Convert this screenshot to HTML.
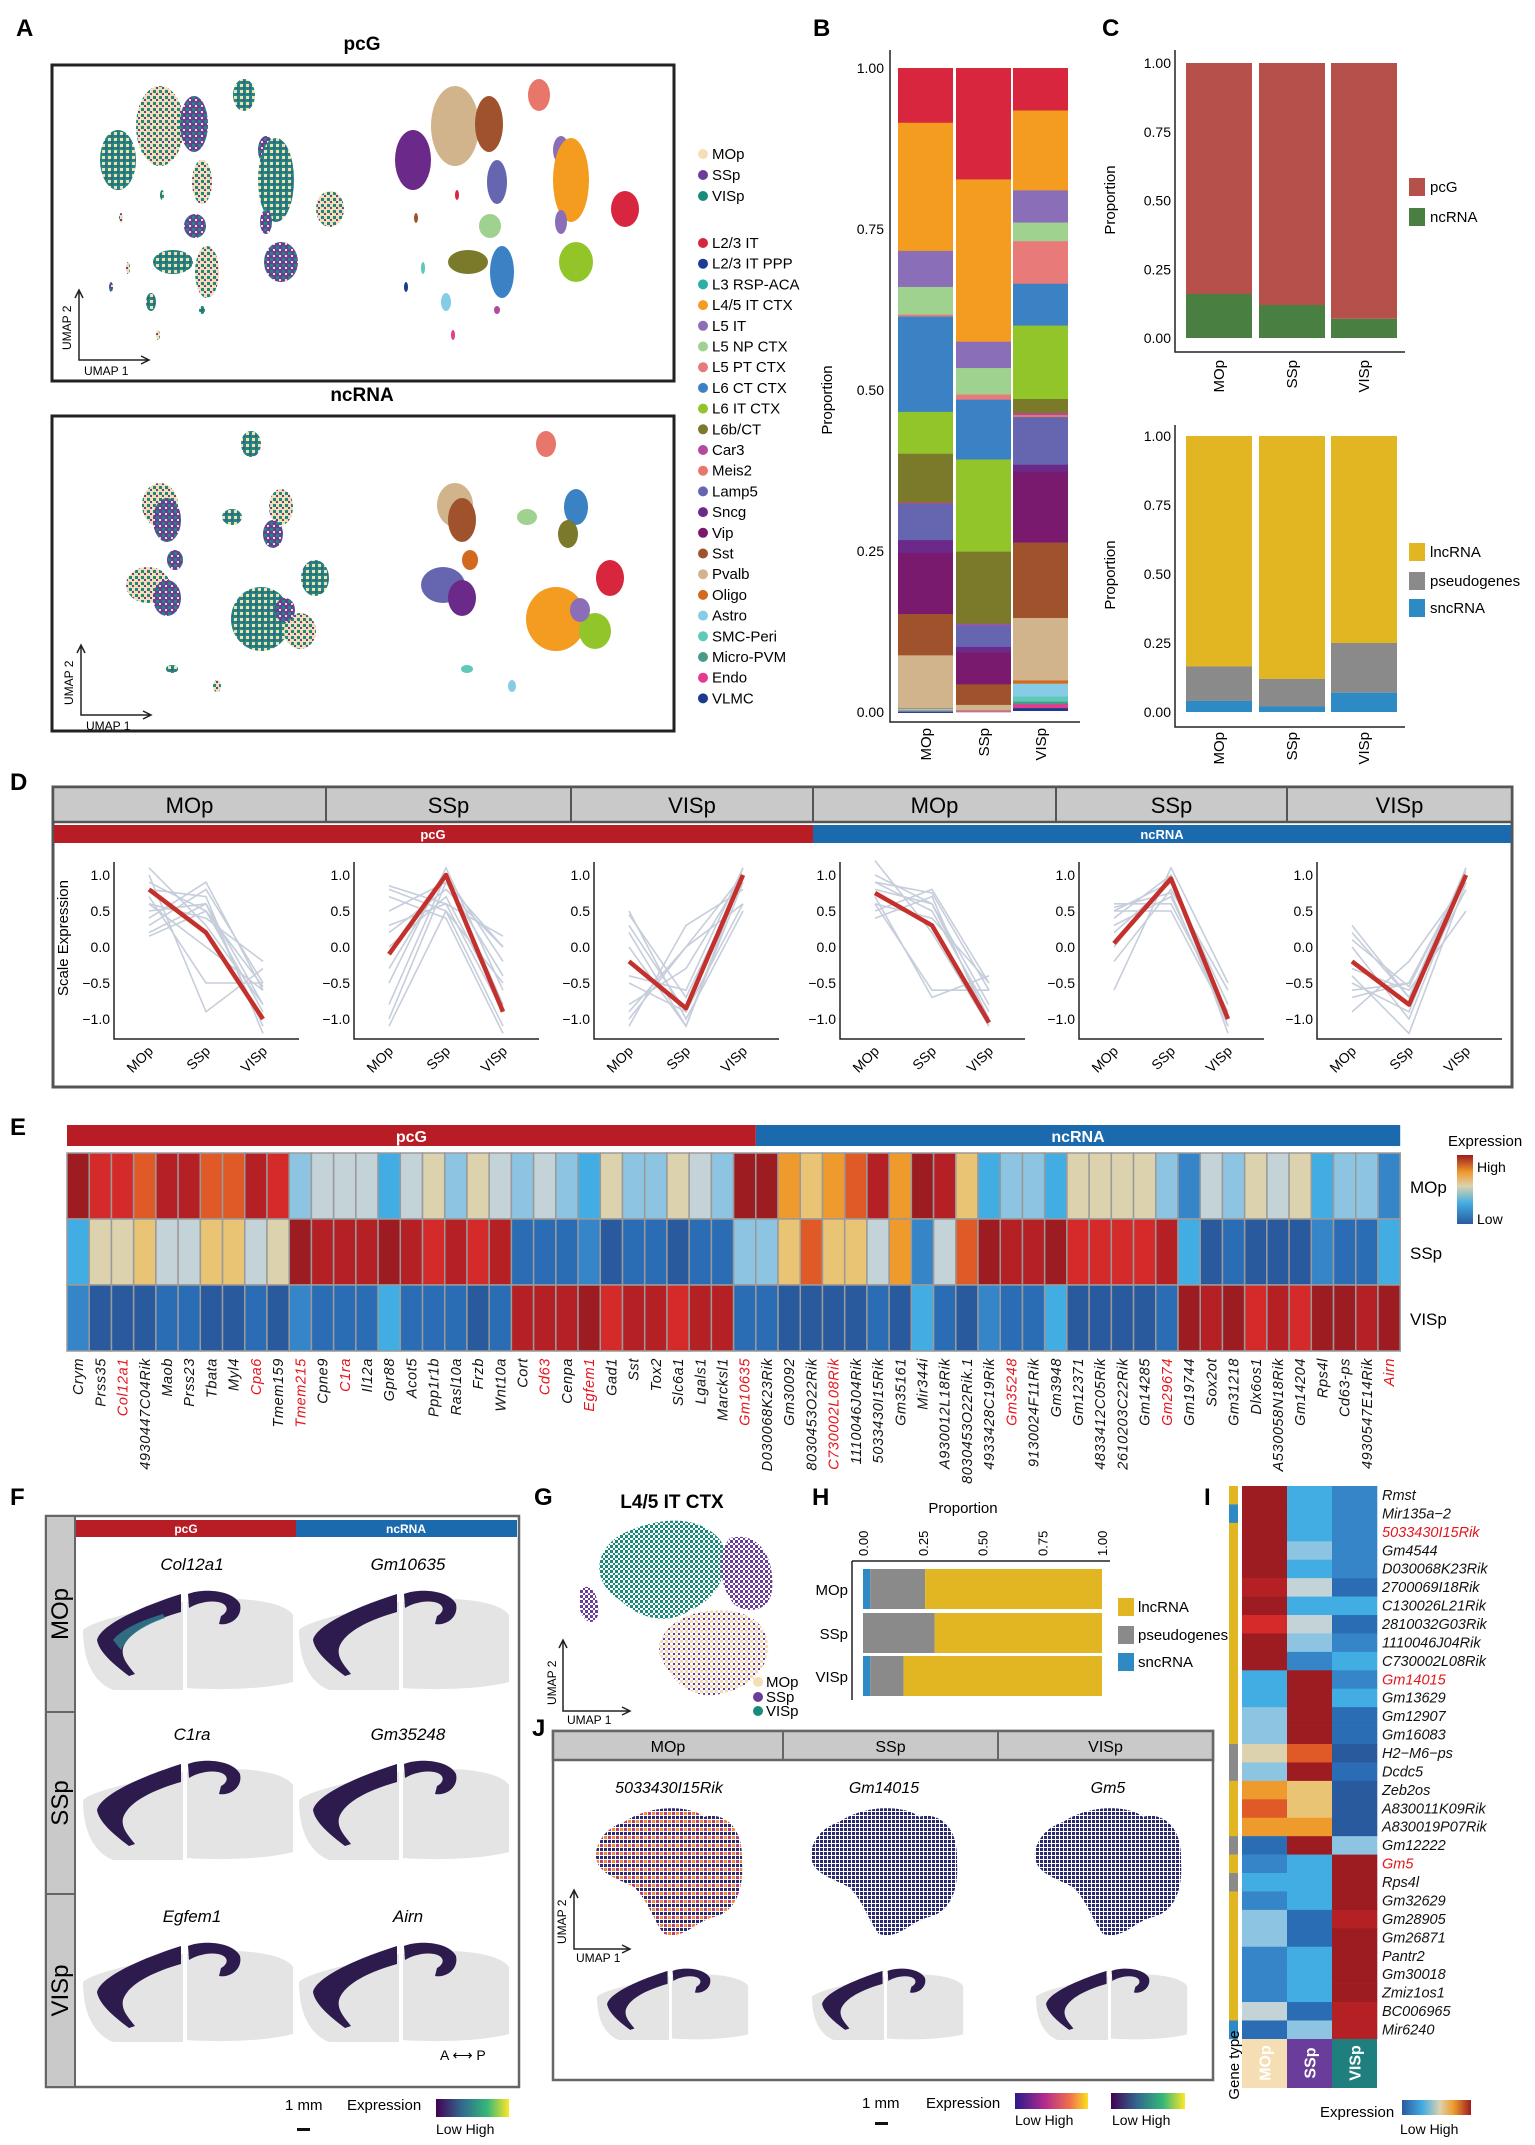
<!DOCTYPE html>
<html><head><meta charset="utf-8">
<style>
html,body{margin:0;padding:0;background:#fff;}
svg{display:block;font-family:"Liberation Sans",Arial,sans-serif;}
</style></head>
<body>
<svg id="fig" width="1535" height="2145" viewBox="0 0 1535 2145" xmlns="http://www.w3.org/2000/svg">
<defs>
<pattern id="mixA" width="6" height="6" patternUnits="userSpaceOnUse"><rect width="6" height="6" fill="#1a8a7a"/><rect x="0" y="0" width="3" height="3" fill="#f5deb3"/><rect x="3" y="3" width="2" height="2" fill="#6a3d9a"/></pattern>
<pattern id="mixB" width="6" height="6" patternUnits="userSpaceOnUse"><rect width="6" height="6" fill="#f5deb3"/><rect x="3" y="0" width="3" height="3" fill="#1a8a7a"/><rect x="0" y="3" width="2" height="2" fill="#6a3d9a"/></pattern>
<pattern id="mixC" width="6" height="6" patternUnits="userSpaceOnUse"><rect width="6" height="6" fill="#6a3d9a"/><rect x="0" y="0" width="3" height="3" fill="#1a8a7a"/><rect x="3" y="3" width="2" height="2" fill="#f5deb3"/></pattern>
<pattern id="gTeal" width="5" height="5" patternUnits="userSpaceOnUse"><rect width="5" height="5" fill="#fff"/><rect x="0" y="0" width="3" height="3" fill="#1a8a7a"/><rect x="3" y="3" width="2" height="2" fill="#1a8a7a"/></pattern>
<pattern id="gPurp" width="5" height="5" patternUnits="userSpaceOnUse"><rect width="5" height="5" fill="#fff"/><rect x="0" y="0" width="3" height="3" fill="#6a3d9a"/><rect x="3" y="3" width="2" height="2" fill="#6a3d9a"/></pattern>
<pattern id="gBeig" width="5" height="5" patternUnits="userSpaceOnUse"><rect width="5" height="5" fill="#fff"/><rect x="0" y="0" width="3" height="3" fill="#f2dbb0"/><rect x="3" y="3" width="2" height="2" fill="#6a3d9a"/></pattern>
<pattern id="navy" width="4" height="4" patternUnits="userSpaceOnUse"><rect width="4" height="4" fill="#fff"/><rect x="0" y="0" width="3" height="3" fill="#2a2a70"/></pattern>
<pattern id="navyHot" width="8" height="8" patternUnits="userSpaceOnUse"><rect width="8" height="8" fill="#fff"/><rect x="0" y="0" width="3" height="3" fill="#2a2a70"/><rect x="4" y="4" width="3" height="3" fill="#f08a30"/><rect x="4" y="0" width="3" height="3" fill="#2a2a70"/><rect x="0" y="4" width="3" height="3" fill="#c03a70"/></pattern>
<linearGradient id="viridis" x1="0" x2="1"><stop offset="0" stop-color="#440154"/><stop offset="0.35" stop-color="#31688e"/><stop offset="0.7" stop-color="#35b779"/><stop offset="1" stop-color="#fde725"/></linearGradient>
<linearGradient id="plasma" x1="0" x2="1"><stop offset="0" stop-color="#2a1a8a"/><stop offset="0.4" stop-color="#b02a90"/><stop offset="0.75" stop-color="#f0704a"/><stop offset="1" stop-color="#f8e020"/></linearGradient>
<linearGradient id="rbv" x1="0" x2="0" y1="1" y2="0"><stop offset="0" stop-color="#2a5a9e"/><stop offset="0.3" stop-color="#42ade3"/><stop offset="0.55" stop-color="#dcd2ae"/><stop offset="0.75" stop-color="#ef9a2c"/><stop offset="1" stop-color="#9c1c21"/></linearGradient>
<linearGradient id="rbh" x1="0" x2="1"><stop offset="0" stop-color="#2a5a9e"/><stop offset="0.3" stop-color="#42ade3"/><stop offset="0.55" stop-color="#dcd2ae"/><stop offset="0.75" stop-color="#ef9a2c"/><stop offset="1" stop-color="#9c1c21"/></linearGradient>
</defs>
</svg>
<script>
// ===== data =====
const bRegions=['MOp','SSp','VISp'];
const cellTypes=['L2/3 IT','L2/3 IT PPP','L3 RSP-ACA','L4/5 IT CTX','L5 IT','L5 NP CTX','L5 PT CTX','L6 CT CTX','L6 IT CTX','L6b/CT','Car3','Meis2','Lamp5','Sncg','Vip','Sst','Pvalb','Oligo','Astro','SMC-Peri','Micro-PVM','Endo','VLMC'];
const bMOp=[0.085,0,0,0.199,0.056,0.043,0.003,0.148,0.065,0.076,0.002,0,0.056,0.02,0.095,0.064,0.082,0.001,0.002,0.001,0.001,0.001,0.001];
const bSSp=[0.173,0,0,0.252,0.041,0.041,0.008,0.093,0.143,0.112,0.002,0,0.034,0.009,0.049,0.032,0.008,0.001,0.001,0,0,0.001,0];
const bVISp=[0.066,0,0,0.124,0.05,0.029,0.066,0.065,0.114,0.022,0.003,0.003,0.074,0.011,0.11,0.117,0.097,0.005,0.02,0.008,0.004,0.006,0.004];
const cNcRNA=[0.16,0.12,0.07];
const cSnc=[0.04,0.02,0.07];
const cPseudo=[0.125,0.10,0.18];
const dRegions=['MOp','SSp','VISp'];
const dRed1=[0.8,0.2,-1.0],dRed2=[-0.1,1.0,-0.9],dRed3=[-0.2,-0.85,1.0],dRed4=[0.75,0.3,-1.05],dRed5=[0.05,0.95,-1.0],dRed6=[-0.2,-0.8,1.0];
const dGrey1=[[0.9,0.5,-0.9],[0.5,0.6,-1.1],[0.3,0.8,-0.5],[1.1,0.3,-0.8],[0.6,0.0,-0.6],[0.7,-0.5,-0.5],[0.2,0.6,-0.8],[0.8,0.7,-1.2],[0.4,0.9,-0.6],[1.0,-0.9,-0.3],[0.6,0.4,-0.2],[0.15,0.5,-0.55]];
const dGrey2=[[0.8,0.5,-1.1],[-0.5,1.1,-0.6],[0.3,0.6,-0.9],[-1.0,0.9,0.0],[0.5,0.9,-0.4],[0.0,0.7,-0.8],[-0.3,1.0,-0.8],[0.7,0.4,-1.2],[0.2,0.8,0.0],[-0.8,1.0,-0.2],[0.85,0.6,0.15],[-1.1,0.5,-0.5]];
const dGrey3=[[-1.0,0.0,1.0],[0.5,-1.0,0.5],[-0.5,-0.9,1.1],[0.0,-1.1,1.0],[-0.8,-0.3,1.0],[0.3,-0.9,0.6],[-1.1,0.3,0.8],[-0.4,-0.6,1.1],[0.2,-1.1,0.9],[-0.9,0.0,0.6],[0.45,-0.7,0.95]];
const dGrey4=[[0.9,0.5,-0.9],[1.2,0.2,-1.1],[0.6,-0.6,-0.6],[0.5,0.8,-0.5],[0.8,0.6,-1.0],[0.6,0.4,-0.5],[1.0,0.6,-0.8],[0.4,0.7,-1.1],[0.7,-0.7,-0.4],[0.9,0.75,-0.6]];
const dGrey5=[[0.5,0.9,-1.1],[-0.6,1.1,-0.5],[0.3,0.7,-1.0],[0.5,0.5,-1.0],[0.0,1.0,-1.0],[-0.2,0.8,-0.6],[0.4,1.0,-1.2],[0.6,0.6,-0.9],[0.2,0.9,-0.8],[0.55,0.75,-1.1]];
const dGrey6=[[0.3,-0.7,1.1],[-0.6,-0.5,1.0],[-0.9,-0.2,0.9],[0.0,-1.0,1.0],[-0.5,-0.9,1.1],[-0.3,-0.6,0.5],[0.2,-0.7,0.8],[-0.7,-0.5,1.0],[-0.4,-1.2,0.9],[0.1,-0.55,1.05]];
const dTicks=[1.0,0.5,0.0,-0.5,-1.0];
const eGenes=['Crym','Prss35','Col12a1','4930447C04Rik','Maob','Prss23','Tbata','Myl4','Cpa6','Tmem159','Tmem215','Cpne9','C1ra','Il12a','Gpr88','Acot5','Ppp1r1b','Rasl10a','Frzb','Wnt10a','Cort','Cd63','Cenpa','Egfem1','Gad1','Sst','Tox2','Slc6a1','Lgals1','Marcksl1','Gm10635','D030068K23Rik','Gm30092','8030453O22Rik','C730002L08Rik','1110046J04Rik','5033430I15Rik','Gm35161','Mir344i','A930012L18Rik','8030453O22Rik.1','4933428C19Rik','Gm35248','9130024F11Rik','Gm3948','Gm12371','4833412C05Rik','2610203C22Rik','Gm14285','Gm29674','Gm19744','Sox2ot','Gm31218','Dlx6os1','A530058N18Rik','Gm14204','Rps4l','Cd63-ps','4930547E14Rik','Airn'];
const eHighlight=['Col12a1','Cpa6','Tmem215','C1ra','Cd63','Egfem1','Gm10635','C730002L08Rik','Gm35248','Gm29674','Airn'];
const eMOp=[12,10,10,9,11,11,9,9,11,10,4,5,5,5,3,5,6,4,6,5,4,5,4,3,6,4,4,6,5,4,12,12,8,7,8,9,11,8,12,11,7,3,4,4,3,6,6,6,6,4,2,5,4,6,5,6,3,4,4,2];
const eSSp=[3,6,6,7,5,5,7,7,5,6,12,11,11,11,12,11,10,11,10,11,1,1,1,2,0,1,1,0,1,1,4,4,7,9,7,7,5,8,2,5,9,12,11,11,12,10,10,10,10,11,3,0,1,0,0,0,2,1,1,3];
const eVISp=[2,0,0,0,1,1,0,0,1,0,2,1,1,1,3,1,1,1,0,1,11,11,11,12,10,11,11,10,11,11,1,1,0,0,0,0,1,0,3,1,0,2,1,1,3,0,0,0,0,1,12,11,12,10,11,10,12,12,11,12];
const hRegions=['MOp','SSp','VISp'];
const hSnc=[0.03,0.0,0.03];
const hPseudo=[0.23,0.30,0.14];
const hTicks=[0,0.25,0.5,0.75,1];
const iGenes=['Rmst','Mir135a\u22122','5033430I15Rik','Gm4544','D030068K23Rik','2700069I18Rik','C130026L21Rik','2810032G03Rik','1110046J04Rik','C730002L08Rik','Gm14015','Gm13629','Gm12907','Gm16083','H2\u2212M6\u2212ps','Dcdc5','Zeb2os','A830011K09Rik','A830019P07Rik','Gm12222','Gm5','Rps4l','Gm32629','Gm28905','Gm26871','Pantr2','Gm30018','Zmiz1os1','BC006965','Mir6240'];
const iHighlight=['5033430I15Rik','Gm14015','Gm5'];
const iType=['l','s','l','l','l','l','l','l','l','l','l','l','l','l','p','p','l','l','l','p','l','p','l','l','l','l','l','l','l','s'];
const iMOp=[12,12,12,12,12,11,12,10,12,12,3,3,4,4,6,4,8,9,8,1,2,3,2,4,4,2,2,2,5,1];
const iSSp=[3,3,3,4,3,5,3,5,4,2,12,12,12,12,9,12,7,7,8,12,3,3,3,1,1,3,3,3,1,4];
const iVISp=[2,2,2,2,2,1,3,1,2,3,2,3,1,1,0,1,0,0,0,4,12,12,12,11,12,12,12,12,11,11];

// ===== style =====
const cellColors=['#d7263d','#1f3a93','#2ab0a8','#f39c1f','#8a6fb8','#9fd18f','#e87a7a','#3b82c4','#92c52a','#7a7a2a','#b34aa0','#e8766a','#6666b0','#6b2a8a','#7a1a6e','#a0522d','#d2b48c','#d2691e','#87cce6','#5fc9b8','#4a9a8a','#e63990','#1a3a8a'];
const heat=['#2a5a9e','#2a6db5','#3585c8','#42ade3','#8cc4e2','#c3d3d8','#dcd2ae','#e8c474','#ef9a2c','#e05a28','#d42a2a','#b42024','#9c1c21'];
const NS='http://www.w3.org/2000/svg';
const svg=document.getElementById('fig');
function mk(tag,attrs,parent){const e=document.createElementNS(NS,tag);for(const k in attrs)e.setAttribute(k,attrs[k]);(parent||svg).appendChild(e);return e;}
function tx(x,y,s,attrs,parent){const t=mk('text',Object.assign({x:x,y:y},attrs||{}),parent);t.textContent=s;return t;}
function grp(name){const g=mk('g',{});return g;}

// panel letters
[['A',16,36],['B',813,36],['C',1102,36],['D',10,790],['E',10,1135],['F',10,1505],['G',534,1505],['H',812,1505],['I',1204,1505],['J',532,1736]].forEach(p=>{
  const t=tx(p[1],p[2],p[0],{'font-size':24,'font-weight':'bold'});
  
  
});

// ===== Panel A =====
const gA=grp('panel-a-umap');
const umapClustersPc=[[539,95,11,16,11],[455,126,24,40,16],[489,124,14,28,15],[413,160,18,30,13],[497,182,10,22,12],[561,150,8,14,4],[571,180,18,42,3],[625,209,14,18,0],[490,226,11,12,5],[468,262,20,12,9],[502,272,12,26,7],[576,262,17,20,8],[446,302,5,9,18],[453,335,2,5,21],[406,287,2,5,22],[457,195,2,5,0],[416,218,2,5,15],[561,222,6,12,4],[497,310,3,4,10],[423,268,2,6,19]];
const umapClustersNc=[[546,444,10,13,11],[455,505,18,22,16],[462,520,14,22,15],[527,517,10,8,5],[576,507,12,18,7],[568,534,10,14,9],[610,578,14,18,0],[443,585,22,18,12],[462,598,14,18,13],[556,619,30,32,3],[595,631,16,18,8],[580,610,10,12,4],[467,669,6,4,19],[512,686,4,6,18],[470,560,8,10,17]];
const boxA=[[52,65,622,316,'pcG',50,'pcg'],[52,416,622,315,'ncRNA',401,'ncrna']];
boxA.forEach((b,bi)=>{
  const r=mk('rect',{x:b[0],y:b[1],width:b[2],height:b[3],fill:'none',stroke:'#222','stroke-width':3},gA);
  
  
  const t=tx(362,b[5],b[4],{'font-size':19,'font-weight':'bold','text-anchor':'middle'},gA);
  
  
  const cl=bi===0?umapClustersPc:umapClustersNc;
  cl.forEach((c,i)=>{
    const e=mk('ellipse',{cx:c[0],cy:c[1],rx:c[2],ry:c[3],fill:cellColors[c[4]]},gA);
    
    
    const m=mk('ellipse',{cx:c[0]-295,cy:c[1],rx:c[2],ry:c[3],fill:['url(#mixA)','url(#mixB)','url(#mixC)'][i%3]},gA);
    
    
  });
  const oy=bi===0?360:715, ox=bi===0?79:81;
  const ax=mk('path',{d:`M${ox},${oy-70} L${ox},${oy} L${ox+70},${oy} M${ox-4},${oy-62} L${ox},${oy-70} L${ox+4},${oy-62} M${ox+62},${oy-4} L${ox+70},${oy} L${ox+62},${oy+4}`,fill:'none',stroke:'#222','stroke-width':1.5},gA);
  
  
  const u1=tx(ox+5,oy+15,'UMAP 1',{'font-size':12},gA);
  
  
  const u2=tx(ox-8,oy-10,'UMAP 2',{'font-size':12,transform:`rotate(-90 ${ox-8} ${oy-10})`},gA);
  
  
});
const regionLegend=[['MOp','#f5deb3',154],['SSp','#6a3d9a',175],['VISp','#1a8a7a',196]];
regionLegend.forEach(l=>{
  const c=mk('circle',{cx:703,cy:l[2],r:5,fill:l[1]},gA);
  
  
  const t=tx(712,l[2]+5,l[0],{'font-size':15},gA);
  
  
});
cellTypes.forEach((ct,i)=>{
  const y=243+i*20.7;
  const c=mk('circle',{cx:703,cy:y,r:5,fill:cellColors[i]},gA);
  
  
  const t=tx(712,y+5,ct,{'font-size':15},gA);
  
  
});

// ===== Panel B =====
const gB=grp('panel-b-stacked-bar');
const yB=v=>712-v*644;
const bX=[898,956,1013];
[bMOp,bSSp,bVISp].forEach((arr,bi)=>{
  let cum=0;
  arr.forEach((v,i)=>{
    if(v<=0)return;
    const r=mk('rect',{x:bX[bi],y:yB(1-cum),width:55,height:v*644+0.3,fill:cellColors[i]},gB);
    
    
    cum+=v;
  });
  const t=tx(bX[bi]+33,728,bRegions[bi],{'font-size':15,'text-anchor':'end',transform:`rotate(-90 ${bX[bi]+33} 728)`},gB);
  
  
});
const bAx=mk('path',{d:'M890,50 L890,722 L1080,722',fill:'none',stroke:'#222','stroke-width':1.5},gB);


[0,0.25,0.5,0.75,1].forEach(v=>{
  const t=tx(884,yB(v)+5,v.toFixed(2),{'font-size':14,'text-anchor':'end'},gB);
  
  
});
const bYt=tx(832,400,'Proportion',{'font-size':15,'text-anchor':'middle',transform:'rotate(-90 832 400)'},gB);



// ===== Panel C =====
const gC=grp('panel-c-bars');
const cX=[1186,1259,1331];
const yC1=v=>338-v*275, yC2=v=>712-v*276;
bRegions.forEach((r,i)=>{
  const a=mk('rect',{x:cX[i],y:yC1(1),width:66,height:275*(1-cNcRNA[i]),fill:'#b5504b'},gC);
  
  
  const b=mk('rect',{x:cX[i],y:yC1(cNcRNA[i]),width:66,height:275*cNcRNA[i],fill:'#4a7f42'},gC);
  
  
  const lnc=1-cSnc[i]-cPseudo[i];
  const c1=mk('rect',{x:cX[i],y:yC2(1),width:66,height:276*lnc,fill:'#e2b623'},gC);
  
  
  const c2=mk('rect',{x:cX[i],y:yC2(cSnc[i]+cPseudo[i]),width:66,height:276*cPseudo[i],fill:'#8a8a8a'},gC);
  
  
  const c3=mk('rect',{x:cX[i],y:yC2(cSnc[i]),width:66,height:276*cSnc[i],fill:'#2d8ac4'},gC);
  
  
  [360,732].forEach(yy=>{
    const t=tx(cX[i]+38,yy,r,{'font-size':15,'text-anchor':'end',transform:`rotate(-90 ${cX[i]+38} ${yy})`},gC);
    
    
  });
});
[[yC1,50,352],[yC2,425,727]].forEach(s=>{
  const p=mk('path',{d:`M1175,${s[1]} L1175,${s[2]} L1405,${s[2]}`,fill:'none',stroke:'#222','stroke-width':1.5},gC);
  
  
  [0,0.25,0.5,0.75,1].forEach(v=>{
    const t=tx(1171,s[0](v)+5,v.toFixed(2),{'font-size':14,'text-anchor':'end'},gC);
    
    
  });
});
[[1115,200],[1115,575]].forEach(p=>{
  const t=tx(p[0],p[1],'Proportion',{'font-size':15,'text-anchor':'middle',transform:`rotate(-90 ${p[0]} ${p[1]})`},gC);
  
  
});
[['pcG','#b5504b',187],['ncRNA','#4a7f42',217],['lncRNA','#e2b623',552],['pseudogenes','#8a8a8a',581],['sncRNA','#2d8ac4',608]].forEach(l=>{
  const r=mk('rect',{x:1409,y:l[2]-9,width:16,height:18,fill:l[1]},gC);
  
  
  const t=tx(1430,l[2]+5,l[0],{'font-size':15},gC);
  
  
});

// ===== Panel D =====
const gD=grp('panel-d-trend-lines');
const dFrame=mk('rect',{x:53,y:787,width:1459,height:300,fill:'#fff',stroke:'#555','stroke-width':3},gD);


const dHead=mk('rect',{x:53,y:787,width:1459,height:35,fill:'#c9c9c9',stroke:'#555','stroke-width':2.5},gD);


const dSplits=[53,326,571,813,1056,1287,1512];
const dHeads=['MOp','SSp','VISp','MOp','SSp','VISp'];
dHeads.forEach((h,i)=>{
  if(i>0){const l=mk('line',{x1:dSplits[i],y1:787,x2:dSplits[i],y2:822,stroke:'#555','stroke-width':2},gD);
  
  }
  const t=tx((dSplits[i]+dSplits[i+1])/2,813,h,{'font-size':22,'text-anchor':'middle'},gD);
  
  
});
const dPc=mk('rect',{x:54,y:825,width:759,height:18,fill:'#b81c25'},gD);


const dNc=mk('rect',{x:813,y:825,width:698,height:18,fill:'#1a6aad'},gD);


const dpt=tx(433,839,'pcG',{'font-size':13,'font-weight':'bold',fill:'#fff','text-anchor':'middle'},gD);


const dnt=tx(1162,839,'ncRNA',{'font-size':13,'font-weight':'bold',fill:'#fff','text-anchor':'middle'},gD);


const dOx=[114,354,594,840,1079,1317];
const dReds=[dRed1,dRed2,dRed3,dRed4,dRed5,dRed6];
const dGreys=[dGrey1,dGrey2,dGrey3,dGrey4,dGrey5,dGrey6];
const yD=v=>947-v*72;
dOx.forEach((ox,pi)=>{
  const xD=i=>ox+35+i*57;
  const ax=mk('path',{d:`M${ox},862 L${ox},1039 L${ox+185},1039`,fill:'none',stroke:'#222','stroke-width':1.5},gD);
  
  
  dTicks.forEach(v=>{
    const t=tx(ox-4,yD(v)+5,v.toFixed(1).replace('-','\u2212'),{'font-size':14,'text-anchor':'end'},gD);
    
    
  });
  dRegions.forEach((r,i)=>{
    const t=tx(xD(i)+5,1052,r,{'font-size':14,'text-anchor':'end',transform:`rotate(-45 ${xD(i)+5} 1052)`},gD);
    
    
  });
  dGreys[pi].forEach(g=>{
    const p=mk('polyline',{points:g.map((v,i)=>xD(i)+','+yD(v)).join(' '),fill:'none',stroke:'#c6cedb','stroke-width':1.6},gD);
    
    
  });
  const red=mk('polyline',{points:dReds[pi].map((v,i)=>xD(i)+','+yD(v)).join(' '),fill:'none',stroke:'#c4302b','stroke-width':4.5,'stroke-linejoin':'round'},gD);
  
  
});
const dYt=tx(68,938,'Scale Expression',{'font-size':15,'text-anchor':'middle',transform:'rotate(-90 68 938)'},gD);



// ===== Panel E =====
const gE=grp('panel-e-heatmap');
const eX0=67,eW=22.22,eRows=[1153,1219,1285],eH=66;
const ePc=mk('rect',{x:eX0,y:1125,width:31*eW,height:21,fill:'#b81c25'},gE);


const eNc=mk('rect',{x:eX0+31*eW,y:1125,width:29*eW,height:21,fill:'#1a6aad'},gE);


const ept=tx(eX0+15.5*eW,1142,'pcG',{'font-size':16,'font-weight':'bold',fill:'#fff','text-anchor':'middle'},gE);


const ent=tx(eX0+45.5*eW,1142,'ncRNA',{'font-size':16,'font-weight':'bold',fill:'#fff','text-anchor':'middle'},gE);


[eMOp,eSSp,eVISp].forEach((row,ri)=>{
  row.forEach((v,ci)=>{
    const r=mk('rect',{x:eX0+ci*eW,y:eRows[ri],width:eW,height:eH,fill:heat[v],stroke:'#9a9a9a','stroke-width':1.5},gE);
    
    
  });
  const t=tx(1410,eRows[ri]+40,bRegions[ri],{'font-size':17},gE);
  
  
});
eGenes.forEach((g,i)=>{
  const x=eX0+i*eW+eW/2+5;
  const t=tx(x,1358,g,{'font-size':14.5,'font-style':'italic','letter-spacing':'0.6','text-anchor':'end',fill:eHighlight.includes(g)?'#e3161e':'#111',transform:`rotate(-90 ${x} 1358)`},gE);
  
  
});
const eLt=tx(1448,1146,'Expression',{'font-size':15},gE);


const eLg=mk('rect',{x:1457,y:1155,width:16,height:69,fill:'url(#rbv)'},gE);


const eHi=tx(1477,1172,'High',{'font-size':14},gE);


const eLo=tx(1477,1224,'Low',{'font-size':14},gE);



// ===== brain helper =====
function brain(ox,oy,s,parent,hot){
  const g=mk('g',{transform:`translate(${ox},${oy}) scale(${s})`},parent);
  
  
  const a=mk('path',{d:'M0,40 C10,30 60,20 100,12 L100,100 L30,100 C10,92 0,70 0,40 Z',fill:'#e4e4e4'},g);
  
  
  const b=mk('path',{d:'M104,12 C150,5 200,10 210,25 L210,92 C180,100 130,100 104,98 Z',fill:'#e4e4e4'},g);
  
  
  const c=mk('path',{d:'M98,4 L98,22 C70,30 45,42 40,58 C38,68 45,75 52,84 L46,86 C30,74 16,62 14,50 C18,34 60,16 98,4 Z',fill:'#2d1b4e'},g);
  
  
  const d=mk('path',{d:'M105,4 C120,-2 150,0 157,14 C160,28 146,36 136,34 L138,26 C146,22 146,14 135,12 C125,10 112,14 106,18 Z',fill:'#2d1b4e'},g);
  
  
  if(hot){const h=mk('path',{d:'M30,50 C40,38 60,30 80,24 L82,28 C60,36 45,45 38,60 Z',fill:'#2f7f8e',opacity:0.8},g);
  
  }
}

// ===== Panel F =====
const gF=grp('panel-f-spatial');
const fFrame=mk('rect',{x:46,y:1516,width:473,height:571,fill:'#fff',stroke:'#666','stroke-width':2.5},gF);


const fRows=[[1516,1712,'MOp'],[1712,1894,'SSp'],[1894,2087,'VISp']];
fRows.forEach(r=>{
  const s=mk('rect',{x:46,y:r[0],width:29,height:r[1]-r[0],fill:'#c9c9c9',stroke:'#666','stroke-width':2},gF);
  
  
  const cy=(r[0]+r[1])/2;
  const t=tx(68,cy,r[2],{'font-size':24,'text-anchor':'middle',transform:`rotate(-90 68 ${cy})`},gF);
  
  
});
const fPc=mk('rect',{x:76,y:1520,width:220,height:17,fill:'#b81c25'},gF);


const fNc=mk('rect',{x:296,y:1520,width:221,height:17,fill:'#1a6aad'},gF);


const fpt=tx(186,1533,'pcG',{'font-size':12,'font-weight':'bold',fill:'#fff','text-anchor':'middle'},gF);


const fnt=tx(406,1533,'ncRNA',{'font-size':12,'font-weight':'bold',fill:'#fff','text-anchor':'middle'},gF);


const fGenes=[['Col12a1','Gm10635'],['C1ra','Gm35248'],['Egfem1','Airn']];
const fTy=[1570,1740,1922];
fGenes.forEach((pr,ri)=>{
  pr.forEach((g,ci)=>{
    const cx=ci===0?192:408;
    const t=tx(cx,fTy[ri],g,{'font-size':17,'font-style':'italic','text-anchor':'middle'},gF);
    
    
    brain(cx-109,fTy[ri]+20,1.0,gF,ci===0&&ri===0);
  });
});
const fAP=tx(440,2060,'A \u27f7 P',{'font-size':14},gF);


const fmm=tx(285,2110,'1 mm',{'font-size':15},gF);


const fsb=mk('rect',{x:297,y:2128,width:13,height:3,fill:'#111'},gF);


const fEx=tx(347,2110,'Expression',{'font-size':15},gF);


const fGr=mk('rect',{x:436,y:2099,width:73,height:18,fill:'url(#viridis)'},gF);


const fLH=tx(436,2134,'Low  High',{'font-size':14,'xml:space':'preserve'},gF);



// ===== Panel G =====
const gG=grp('panel-g-umap');
const gT=tx(672,1508,'L4/5 IT CTX',{'font-size':19,'font-weight':'bold','text-anchor':'middle'},gG);


const gRegs=[['M620,1535 C660,1515 700,1515 720,1540 C735,1560 720,1600 690,1610 C670,1625 640,1620 620,1600 C595,1585 590,1555 620,1535 Z','url(#gTeal)','visp-cells'],
['M730,1538 C760,1530 775,1560 772,1590 C770,1610 750,1615 735,1605 C720,1590 715,1555 730,1538 Z','url(#gPurp)','ssp-cells'],
['M700,1612 C740,1605 770,1620 768,1650 C765,1675 745,1690 715,1695 C690,1698 670,1680 660,1655 C655,1635 675,1618 700,1612 Z','url(#gBeig)','mop-cells'],
['M580,1590 C590,1580 600,1595 598,1615 C595,1625 585,1625 580,1610 Z','url(#gPurp)','ssp-cells-left']];
gRegs.forEach(r=>{
  const p=mk('path',{d:r[0],fill:r[1]},gG);
  
  
});
const gAx=mk('path',{d:'M563,1640 L563,1711 L630,1711 M559,1648 L563,1640 L567,1648 M622,1707 L630,1711 L622,1715',fill:'none',stroke:'#222','stroke-width':1.5},gG);


const gu1=tx(567,1724,'UMAP 1',{'font-size':12},gG);


const gu2=tx(556,1705,'UMAP 2',{'font-size':12,transform:'rotate(-90 556 1705)'},gG);


[['MOp','#f5deb3',1682],['SSp','#6a3d9a',1697],['VISp','#1a8a7a',1711]].forEach(l=>{
  const c=mk('circle',{cx:758,cy:l[2],r:5,fill:l[1]},gG);
  
  
  const t=tx(766,l[2]+5,l[0],{'font-size':15},gG);
  
  
});

// ===== Panel H =====
const gH=grp('panel-h-bars');
const xH=v=>863+v*239;
const hY=[1569,1613,1656];
const hP=tx(963,1513,'Proportion',{'font-size':15,'text-anchor':'middle'},gH);


const hAx=mk('path',{d:'M852,1561 L1110,1561 M852,1561 L852,1700',fill:'none',stroke:'#222','stroke-width':1.5},gH);


hTicks.forEach(v=>{
  const t=tx(xH(v)+5,1556,v.toFixed(2),{'font-size':13,transform:`rotate(-90 ${xH(v)+5} 1556)`},gH);
  
  
});
hRegions.forEach((r,i)=>{
  const y=hY[i];
  const a=mk('rect',{x:xH(0),y:y,width:239*hSnc[i],height:40,fill:'#2d8ac4'},gH);
  
  
  const b=mk('rect',{x:xH(hSnc[i]),y:y,width:239*hPseudo[i],height:40,fill:'#8a8a8a'},gH);
  
  
  const c=mk('rect',{x:xH(hSnc[i]+hPseudo[i]),y:y,width:239*(1-hSnc[i]-hPseudo[i]),height:40,fill:'#e2b623'},gH);
  
  
  const t=tx(848,y+26,r,{'font-size':15,'text-anchor':'end'},gH);
  
  
});
[['lncRNA','#e2b623',1607],['pseudogenes','#8a8a8a',1635],['sncRNA','#2d8ac4',1662]].forEach(l=>{
  const r=mk('rect',{x:1118,y:l[2]-9,width:16,height:18,fill:l[1]},gH);
  
  
  const t=tx(1138,l[2]+5,l[0],{'font-size':15},gH);
  
  
});

// ===== Panel I =====
const gI=grp('panel-i-heatmap');
const iX=[1242,1287,1332],iW=45,iY0=1486,iH=18.43;
const typeColor={l:'#e2b623',s:'#2d8ac4',p:'#8a8a8a'};
iGenes.forEach((g,i)=>{
  const y=iY0+i*iH;
  const s=mk('rect',{x:1229,y:y,width:9,height:iH+0.3,fill:typeColor[iType[i]]},gI);
  
  
  [iMOp,iSSp,iVISp].forEach((arr,ci)=>{
    const r=mk('rect',{x:iX[ci],y:y,width:iW+0.3,height:iH+0.3,fill:heat[arr[i]]},gI);
    
    
  });
  const t=tx(1382,y+14,g,{'font-size':14.5,'font-style':'italic',fill:iHighlight.includes(g)?'#e3161e':'#111'},gI);
  
  
});
[['MOp','#f5deb3'],['SSp','#6a3d9a'],['VISp','#1f7f7f']].forEach((c,i)=>{
  const r=mk('rect',{x:iX[i],y:2039,width:iW,height:49,fill:c[1]},gI);
  
  
  const cx=iX[i]+iW/2+6;
  const t=tx(cx,2063,c[0],{'font-size':16,'font-weight':'bold',fill:'#fff','text-anchor':'middle',transform:`rotate(-90 ${cx} 2063)`},gI);
  
  
});
const iGt=tx(1239,2065,'Gene type',{'font-size':15,'text-anchor':'middle',transform:'rotate(-90 1239 2065)'},gI);


const iEx=tx(1320,2117,'Expression',{'font-size':15},gI);


const iGr=mk('rect',{x:1402,y:2100,width:69,height:15,fill:'url(#rbh)'},gI);


const iLH=tx(1400,2134,'Low  High',{'font-size':14,'xml:space':'preserve'},gI);



// ===== Panel J =====
const gJ=grp('panel-j-umap-spatial');
const jFrame=mk('rect',{x:553,y:1731,width:660,height:349,fill:'#fff',stroke:'#666','stroke-width':2.5},gJ);


const jHead=mk('rect',{x:553,y:1731,width:660,height:29,fill:'#c9c9c9',stroke:'#666','stroke-width':2.5},gJ);


const jSplit=[553,783,998,1213];
const jGenes=['5033430I15Rik','Gm14015','Gm5'];
const jCx=[669,884,1108];
bRegions.forEach((r,i)=>{
  if(i>0){const l=mk('line',{x1:jSplit[i],y1:1731,x2:jSplit[i],y2:1760,stroke:'#666','stroke-width':2},gJ);
  
  }
  const t=tx((jSplit[i]+jSplit[i+1])/2,1752,r,{'font-size':16,'text-anchor':'middle'},gJ);
  
  
  const gt=tx(jCx[i],1793,jGenes[i],{'font-size':16,'font-style':'italic','text-anchor':'middle'},gJ);
  
  
  const ox=jCx[i]-75,oy=1802;
  const u=mk('path',{d:`M${ox+30},${oy+20} C${ox+60},${oy} ${ox+100},${oy+5} ${ox+110},${oy+15} C${ox+125},${oy+10} ${ox+150},${oy+20} ${ox+148},${oy+60} C${ox+150},${oy+90} ${ox+140},${oy+110} ${ox+120},${oy+115} C${ox+100},${oy+120} ${ox+90},${oy+138} ${ox+70},${oy+132} C${ox+60},${oy+120} ${ox+55},${oy+100} ${ox+40},${oy+85} C${ox+20},${oy+75} ${ox},${oy+70} ${ox+2},${oy+50} C${ox+5},${oy+35} ${ox+15},${oy+25} ${ox+30},${oy+20} Z`,fill:i===0?'url(#navyHot)':'url(#navy)'},gJ);
  
  
  brain(jCx[i]-72,1968,0.72,gJ,false);
});
const jAx=mk('path',{d:'M574,1890 L574,1949 L630,1949 M570,1898 L574,1890 L578,1898 M622,1945 L630,1949 L622,1953',fill:'none',stroke:'#222','stroke-width':1.5},gJ);


const ju1=tx(576,1962,'UMAP 1',{'font-size':12},gJ);


const ju2=tx(566,1944,'UMAP 2',{'font-size':12,transform:'rotate(-90 566 1944)'},gJ);


const jmm=tx(862,2108,'1 mm',{'font-size':15},gJ);


const jsb=mk('rect',{x:875,y:2122,width:13,height:3,fill:'#111'},gJ);


const jEx=tx(926,2108,'Expression',{'font-size':15},gJ);


const jG1=mk('rect',{x:1015,y:2093,width:73,height:16,fill:'url(#plasma)'},gJ);


const jG2=mk('rect',{x:1111,y:2093,width:74,height:16,fill:'url(#viridis)'},gJ);


const jL1=tx(1015,2125,'Low  High',{'font-size':14,'xml:space':'preserve'},gJ);


const jL2=tx(1112,2125,'Low  High',{'font-size':14,'xml:space':'preserve'},gJ);


</script>
</body></html>
